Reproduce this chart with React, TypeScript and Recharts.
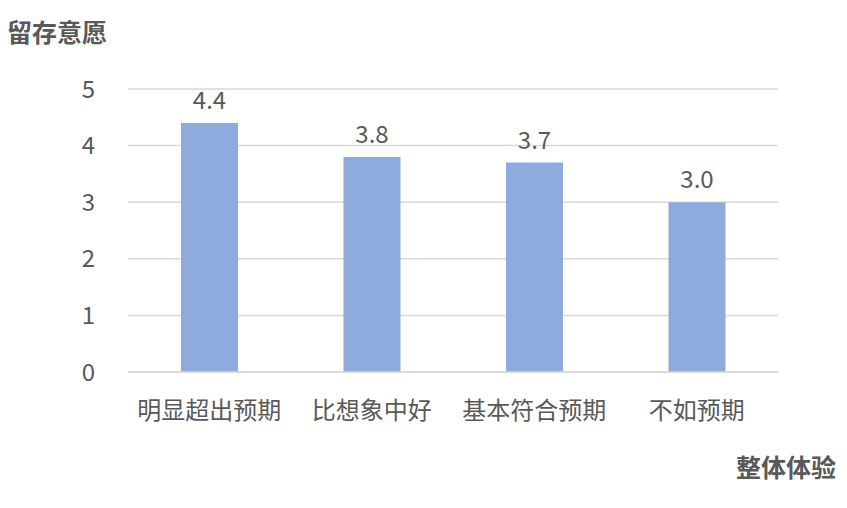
import React from 'react';
import { BarChart, Bar, XAxis, YAxis, CartesianGrid, LabelList } from 'recharts';

const categories = ['明显超出预期', '比想象中好', '基本符合预期', '不如预期'];
const values = [4.4, 3.8, 3.7, 3.0];
const yTicks = [0, 1, 2, 3, 4, 5];
const yTitle = '留存意愿';
const xTitle = '整体体验';

const data = categories.map((name, i) => ({ name, value: values[i] }));

const FONT = '"Noto Sans CJK SC", "Microsoft YaHei", sans-serif';
const TEXT = '#595959';

export default function App() {
  return (
    <div style={{ position: 'absolute', left: 0, top: 0, width: 847, height: 508, background: '#fff', fontFamily: FONT }}>
      <BarChart width={847} height={508} data={data} margin={{ top: 89, right: 69, bottom: 0, left: 0 }}>
        <CartesianGrid horizontal vertical={false} stroke="#D9D9D9" strokeWidth={1.5} />
        <XAxis
          dataKey="name"
          height={136}
          tickLine={false}
          tickSize={0}
          tickMargin={30}
          axisLine={{ stroke: '#D9D9D9', strokeWidth: 1.5 }}
          tick={{ fill: TEXT, fontSize: 24, fontFamily: FONT }}
          interval={0}
        />
        <YAxis
          width={128}
          domain={[0, 5]}
          ticks={yTicks}
          axisLine={false}
          tickLine={false}
          tickSize={0}
          tickMargin={33}
          tick={{ fill: TEXT, fontSize: 24, fontFamily: FONT }}
        />
        <Bar dataKey="value" fill="#8FAADC" barSize={57} isAnimationActive={false}>
          <LabelList
            dataKey="value"
            position="top"
            offset={14}
            formatter={(v: number) => v.toFixed(1)}
            style={{ fill: TEXT, fontSize: 24, fontFamily: FONT }}
          />
        </Bar>
      </BarChart>
      <div style={{ position: 'absolute', left: 7, top: 14, fontSize: 25, fontWeight: 'bold', color: TEXT, lineHeight: '34px', whiteSpace: 'nowrap' }}>
        {yTitle}
      </div>
      <div style={{ position: 'absolute', right: 11, top: 449, fontSize: 25, fontWeight: 'bold', color: TEXT, lineHeight: '34px', whiteSpace: 'nowrap' }}>
        {xTitle}
      </div>
    </div>
  );
}
